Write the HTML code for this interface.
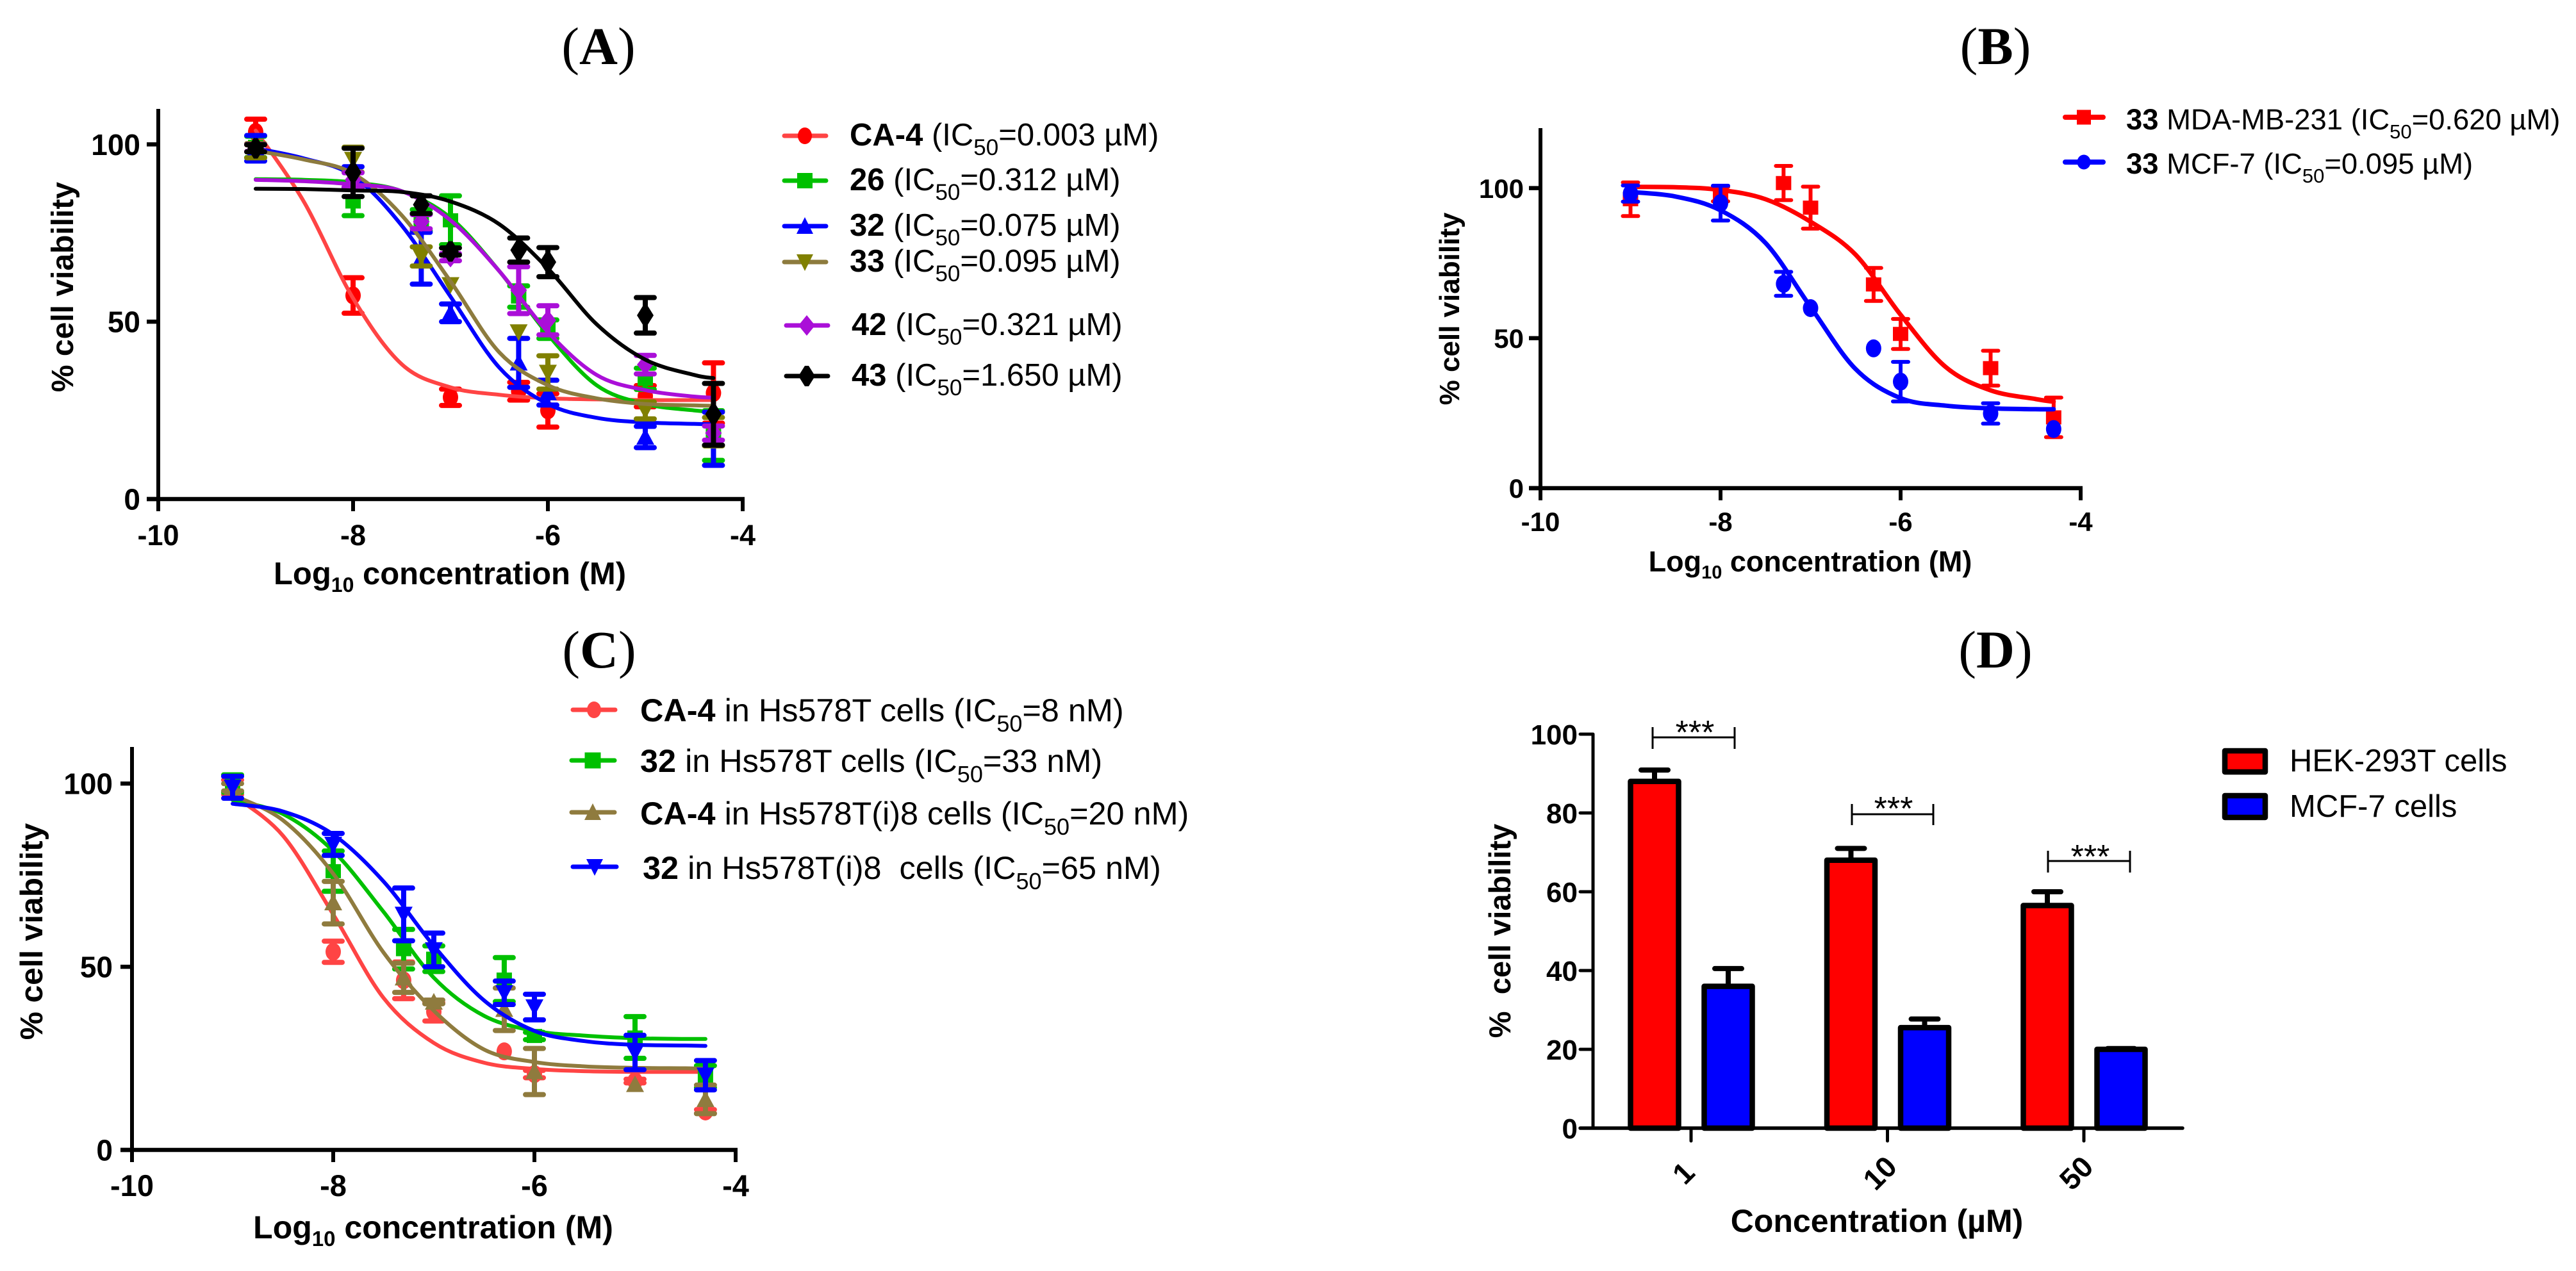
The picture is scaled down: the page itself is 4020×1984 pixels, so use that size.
<!DOCTYPE html>
<html lang="en">
<head>
<meta charset="utf-8">
<title>Cell viability dose-response charts</title>
<style>
html,body{margin:0;padding:0;background:#fff;}
svg{display:block;}
text{font-family:"Liberation Sans",Arial,sans-serif;fill:#000;}
.panel-title{font-family:"Liberation Serif",serif;font-size:83px;text-anchor:middle;}
.panel-title .l{font-weight:bold;}
.axis-title{font-weight:bold;text-anchor:middle;}
</style>
</head>
<body>
<svg id="figure" xmlns="http://www.w3.org/2000/svg" width="4020" height="1984" viewBox="0 0 4020 1984">
<rect width="4020" height="1984" fill="#fff"/>

<text class="panel-title" x="934" y="100">(<tspan class="l">A</tspan>)</text>
<text class="panel-title" x="3114" y="100">(<tspan class="l">B</tspan>)</text>
<text class="panel-title" x="935" y="1042">(<tspan class="l">C</tspan>)</text>
<text class="panel-title" x="3114" y="1042">(<tspan class="l">D</tspan>)</text>

<g id="chart-a"></g>
<g id="chart-b"></g>
<g id="chart-c"></g>
<g id="chart-d"></g>

<!-- Axis titles -->
<text class="axis-title" font-size="48" transform="translate(114,448) rotate(-90)">% cell viability</text>
<text class="axis-title" font-size="49" x="702" y="912">Log<tspan font-size="32" dy="12">10</tspan><tspan dy="-12"> concentration (M)</tspan></text>
<text class="axis-title" font-size="44" transform="translate(2277,482) rotate(-90)">% cell viability</text>
<text class="axis-title" font-size="45" x="2825" y="892">Log<tspan font-size="29" dy="11">10</tspan><tspan dy="-11"> concentration (M)</tspan></text>
<text class="axis-title" font-size="49.5" transform="translate(66,1454) rotate(-90)">% cell viability</text>
<text class="axis-title" font-size="50" x="676" y="1933">Log<tspan font-size="33" dy="12">10</tspan><tspan dy="-12"> concentration (M)</tspan></text>
<text class="axis-title" font-size="47" xml:space="preserve" transform="translate(2357,1453) rotate(-90)">%  cell viability</text>
<text class="axis-title" font-size="50" x="2929" y="1923">Concentration (µM)</text>

<!-- Legend A -->
<g font-size="49">
 <g>
  <line x1="1224" y1="212" x2="1289" y2="212" stroke="#ff4444" stroke-width="7" stroke-linecap="round"/>
  <path transform="translate(1256,212)" fill="#ff0000" d="M-11 0A11 13 0 1 1 11 0A11 13 0 1 1 -11 0Z"/>
  <text x="1326" y="227"><tspan font-weight="bold">CA-4</tspan> (IC<tspan font-size="35" dy="15">50</tspan><tspan dy="-15">=0.003 µM)</tspan></text>
 </g>
 <g>
  <line x1="1224" y1="282" x2="1289" y2="282" stroke="#00c000" stroke-width="7" stroke-linecap="round"/>
  <path transform="translate(1256,282)" fill="#00c000" d="M-12 -12H12V12H-12Z"/>
  <text x="1326" y="297"><tspan font-weight="bold">26</tspan> (IC<tspan font-size="35" dy="15">50</tspan><tspan dy="-15">=0.312 µM)</tspan></text>
 </g>
 <g>
  <line x1="1224" y1="353" x2="1289" y2="353" stroke="#0000ff" stroke-width="7" stroke-linecap="round"/>
  <path transform="translate(1256,353)" fill="#0000ff" d="M0 -14L13 12H-13Z"/>
  <text x="1326" y="368"><tspan font-weight="bold">32</tspan> (IC<tspan font-size="35" dy="15">50</tspan><tspan dy="-15">=0.075 µM)</tspan></text>
 </g>
 <g>
  <line x1="1224" y1="409" x2="1289" y2="409" stroke="#8d7b3e" stroke-width="7" stroke-linecap="round"/>
  <path transform="translate(1256,409)" fill="#808000" d="M0 14L13 -12H-13Z"/>
  <text x="1326" y="424"><tspan font-weight="bold">33</tspan> (IC<tspan font-size="35" dy="15">50</tspan><tspan dy="-15">=0.095 µM)</tspan></text>
 </g>
 <g>
  <line x1="1227" y1="508" x2="1292" y2="508" stroke="#aa0fd8" stroke-width="7" stroke-linecap="round"/>
  <path transform="translate(1259,508)" fill="#aa0fd8" d="M0 -16L13 0L0 16L-13 0Z"/>
  <text x="1329" y="523"><tspan font-weight="bold">42</tspan> (IC<tspan font-size="35" dy="15">50</tspan><tspan dy="-15">=0.321 µM)</tspan></text>
 </g>
 <g>
  <line x1="1227" y1="587" x2="1292" y2="587" stroke="#000" stroke-width="7" stroke-linecap="round"/>
  <path transform="translate(1259,587)" fill="#000" d="M-3 -16H3L13 0L3 16H-3L-13 0Z"/>
  <text x="1329" y="602"><tspan font-weight="bold">43</tspan> (IC<tspan font-size="35" dy="15">50</tspan><tspan dy="-15">=1.650 µM)</tspan></text>
 </g>
</g>

<!-- Legend B -->
<g font-size="45.4">
 <g>
  <line x1="3223" y1="183" x2="3282" y2="183" stroke="#ff0000" stroke-width="8" stroke-linecap="round"/>
  <path transform="translate(3252,183)" fill="#ff0000" d="M-11 -11.5H11V11.5H-11Z"/>
  <text x="3318" y="202"><tspan font-weight="bold">33</tspan> MDA-MB-231 (IC<tspan font-size="31" dy="14">50</tspan><tspan dy="-14">=0.620 µM)</tspan></text>
 </g>
 <g>
  <line x1="3223" y1="253" x2="3282" y2="253" stroke="#0000ff" stroke-width="8" stroke-linecap="round"/>
  <path transform="translate(3252,253)" fill="#0000ff" d="M-10.5 0A10.5 11.5 0 1 1 10.5 0A10.5 11.5 0 1 1 -10.5 0Z"/>
  <text x="3318" y="271"><tspan font-weight="bold">33</tspan> MCF-7 (IC<tspan font-size="31" dy="14">50</tspan><tspan dy="-14">=0.095 µM)</tspan></text>
 </g>
</g>

<!-- Legend C -->
<g font-size="50.4">
 <g>
  <line x1="894" y1="1108" x2="960" y2="1108" stroke="#ff4444" stroke-width="7" stroke-linecap="round"/>
  <path transform="translate(927,1108)" fill="#ff4444" d="M-11 0A11 13 0 1 1 11 0A11 13 0 1 1 -11 0Z"/>
  <text x="999" y="1126"><tspan font-weight="bold">CA-4</tspan> in Hs578T cells (IC<tspan font-size="36" dy="16">50</tspan><tspan dy="-16">=8 nM)</tspan></text>
 </g>
 <g>
  <line x1="892" y1="1187" x2="959" y2="1187" stroke="#00c000" stroke-width="7" stroke-linecap="round"/>
  <path transform="translate(925,1187)" fill="#00c000" d="M-12.5 -12.5H12.5V12.5H-12.5Z"/>
  <text x="999" y="1205"><tspan font-weight="bold">32</tspan> in Hs578T cells (IC<tspan font-size="36" dy="16">50</tspan><tspan dy="-16">=33 nM)</tspan></text>
 </g>
 <g>
  <line x1="892" y1="1268" x2="959" y2="1268" stroke="#8f7b3e" stroke-width="7" stroke-linecap="round"/>
  <path transform="translate(925,1268)" fill="#8f7b3e" d="M0 -14L13 12H-13Z"/>
  <text x="999" y="1287"><tspan font-weight="bold">CA-4</tspan> in Hs578T(i)8 cells (IC<tspan font-size="36" dy="16">50</tspan><tspan dy="-16">=20 nM)</tspan></text>
 </g>
 <g>
  <line x1="894" y1="1353" x2="962" y2="1353" stroke="#0000ff" stroke-width="7" stroke-linecap="round"/>
  <path transform="translate(928,1353)" fill="#0000ff" d="M0 14L13 -12H-13Z"/>
  <text x="1003" y="1372" xml:space="preserve"><tspan font-weight="bold">32</tspan> in Hs578T(i)8  cells (IC<tspan font-size="36" dy="16">50</tspan><tspan dy="-16">=65 nM)</tspan></text>
 </g>
</g>

<!-- Legend D -->
<g font-size="49">
 <g>
  <rect x="3472" y="1172" width="63" height="33" fill="#ff0000" stroke="#000" stroke-width="8.5" stroke-linejoin="round"/>
  <text x="3573" y="1204">HEK-293T cells</text>
 </g>
 <g>
  <rect x="3472" y="1242" width="63" height="34" fill="#0000ff" stroke="#000" stroke-width="8.5" stroke-linejoin="round"/>
  <text x="3573" y="1275">MCF-7 cells</text>
 </g>
</g>

<!-- Significance brackets -->
<g>
 <path d="M2579 1135V1169M2579 1151H2707M2707 1135V1169" fill="none" stroke="#000" stroke-width="3"/>
 <text x="2645" y="1161" font-size="52" text-anchor="middle">***</text>
</g>
<g>
 <path d="M2890 1255V1288M2890 1271H3017M3017 1255V1288" fill="none" stroke="#000" stroke-width="3"/>
 <text x="2955" y="1280" font-size="52" text-anchor="middle">***</text>
</g>
<g>
 <path d="M3196 1328V1362M3196 1344H3324M3324 1328V1362" fill="none" stroke="#000" stroke-width="3"/>
 <text x="3262" y="1355" font-size="52" text-anchor="middle">***</text>
</g>
</svg>

<script>
// Shared x positions (log10 M)
const doseLog = [-9, -8, -7.3, -7, -6.3, -6, -5, -4.3];
const curveLog = [-9, -8.5, -8, -7.5, -7, -6.5, -6, -5.5, -5, -4.5, -4.3];
const xTickValues = [-10, -8, -6, -4];
const xTickLabels = ['-10', '-8', '-6', '-4'];
const yTickValues = [0, 50, 100];
const yTickLabels = ['0', '50', '100'];

// Panel A values
const aCa4Mean = [103.5, 57.4, null, 28.7, 30.4, 25, 29, 29.9];
const aCa4Err = [3.6, 5, null, 2.3, 2.5, 4.7, 3, 8.5];
const aCa4Curve = [103.9, 83.6, 56.6, 38, 31.5, 29.4, 28.4, 28.1, 27.9, 27.9, 27.9];
const a26Mean = [99.3, 83.9, 78.6, 78.6, 57.1, 47.9, 33.9, 17.9];
const a26Err = [3, 4, 3, 6.9, 3, 2.6, 3, 7];
const a26Curve = [90.2, 90, 89.3, 86.8, 79.3, 64.3, 46.4, 32.1, 26.8, 25, 24.6];
const a32Mean = [98.9, 90.7, 67.9, 52.5, 38.4, 30, 17.5, 17];
const a32Err = [3.6, 3, 7.3, 2.5, 6.9, 3.5, 3, 7.5];
const a32Curve = [98.9, 96, 91.1, 77.1, 57.1, 37.1, 26.8, 22.9, 21.6, 21.2, 21.1];
const a33Mean = [98.2, 95.7, 68.4, 60.4, 47.1, 35.7, 25, 19];
const a33Err = [2, 3.5, 2.7, 0.3, 0.3, 4.7, 2.4, 4];
const a33Curve = [98.2, 95.7, 91.8, 80, 61.4, 41.4, 32.1, 28.4, 26.8, 26.4, 26.3];
const a42Mean = [99, 90, 78.2, 68.2, 58.9, 50.4, 37.9, 18.6];
const a42Err = [1, 2, 2, 1, 6.6, 4.1, 2.6, 2];
const a42Curve = [90, 89.6, 88.7, 86.8, 78.6, 64.3, 47.1, 35, 30.7, 28.9, 28.6];
const a43Mean = [98.9, 92.1, 83, 69.8, 70.2, 66.8, 51.8, 23.9];
const a43Err = [1, 6.8, 2.5, 1, 3.4, 4.1, 5, 8.7];
const a43Curve = [87.5, 87.4, 87, 86.6, 83.9, 77.5, 65, 49.3, 39.3, 35, 34.1];

// Panel B values
const bRedMean = [96.3, 98, 101.7, 93.5, 67.9, 51.4, 40, 23.6];
const bRedErr = [5.6, 2.4, 5.7, 7, 5.5, 5, 5.8, 6.6];
const bRedCurve = [100.4, 100.3, 99.4, 96.3, 88.8, 77.8, 57.8, 40.4, 32.6, 29.7, 28.8];
const bBlueMean = [98.2, 95, 68.1, 60, 46.6, 35.5, 24.9, 19.7];
const bBlueErr = [2.7, 5.8, 4, 0.3, 0, 6.6, 3.4, 0];
const bBlueCurve = [98.7, 97.2, 92.6, 81.7, 60.4, 39.7, 30, 27.5, 26.6, 26.3, 26.3];

// Panel C values
const cCa4Mean = [99, 54.1, 46.3, 37.7, 26.9, 20.7, 18.8, 10.5];
const cCa4Err = [2, 2.9, 5, 2.5, 0, 1, 0.5, 0.5];
const cCa4Curve = [96.9, 85.8, 64.3, 41.5, 29.2, 23.8, 22.1, 21.5, 21.3, 21.3, 21.3];
const c32Mean = [100, 76.1, 54.8, 52.2, 46.5, 31.1, 30.7, 20];
const c32Err = [2.4, 5.5, 5.4, 3.5, 6, 1, 5.7, 3];
const c32Curve = [95.5, 91.7, 81.6, 65, 47, 36.6, 32.5, 31.2, 30.5, 30.3, 30.3];
const cCa4iMean = [99, 67.5, 47, 40.4, 38.4, 21.4, 17.9, 13.8];
const cCa4iErr = [1, 5.8, 4, 0.5, 5.8, 6.3, 0, 3.9];
const cCa4iCurve = [96.9, 90, 75.4, 53.9, 38, 27.4, 24, 22.8, 22.4, 22.3, 22.2];
const c32iMean = [99, 83.4, 64.3, 54.6, 42.9, 39, 26.6, 20.4];
const c32iErr = [3, 3, 7.2, 4.6, 3.2, 3.5, 4.7, 4];
const c32iCurve = [94.5, 92.4, 86.1, 73.3, 55.7, 40.8, 32.5, 29.7, 28.7, 28.5, 28.4];

// Panel D values
const dCategories = ['1', '10', '50'];
const dHekMean = [88, 68, 56.5];
const dHekErr = [2.9, 3, 3.5];
const dMcfMean = [36, 25.5, 20];
const dMcfErr = [4.5, 2.2, 0.2];
const dTickValues = [0, 20, 40, 60, 80, 100];
const dTickLabels = ['0', '20', '40', '60', '80', '100'];

const NS = 'http://www.w3.org/2000/svg';
const SHAPES = {
  circle: 'M-12 0A12 14 0 1 1 12 0A12 14 0 1 1 -12 0Z',
  square: 'M-12 -11H12V11H-12Z',
  up: 'M0 -14L14 12H-14Z',
  down: 'M0 14L14 -12H-14Z',
  diamond: 'M0 -16L13 0L0 16L-13 0Z',
  hex: 'M-3 -16H3L13 0L3 16H-3L-13 0Z'
};

function mk(tag, parent, attrs) {
  const n = document.createElementNS(NS, tag);
  for (const k in attrs) n.setAttribute(k, attrs[k]);
  parent.appendChild(n);
  return n;
}

function makeScale(d0, d1, r0, r1) {
  return function (v) { return r0 + (v - d0) * (r1 - r0) / (d1 - d0); };
}

function smoothPath(xs, ys) {
  let d = 'M' + xs[0].toFixed(1) + ' ' + ys[0].toFixed(1);
  for (let i = 0; i < xs.length - 1; i++) {
    const p = i > 0 ? i - 1 : i;
    const n = i + 2 < xs.length ? i + 2 : i + 1;
    const c1x = xs[i] + (xs[i + 1] - xs[p]) / 6;
    const c1y = ys[i] + (ys[i + 1] - ys[p]) / 6;
    const c2x = xs[i + 1] - (xs[n] - xs[i]) / 6;
    const c2y = ys[i + 1] - (ys[n] - ys[i]) / 6;
    d += 'C' + c1x.toFixed(1) + ' ' + c1y.toFixed(1) + ' ' + c2x.toFixed(1) + ' ' + c2y.toFixed(1) + ' ' + xs[i + 1].toFixed(1) + ' ' + ys[i + 1].toFixed(1);
  }
  return d;
}

function drawAxes(g, f, sx, sy) {
  const yAxis = mk('line', g, { x1: f.x0, y1: f.yTop, x2: f.x0, y2: f.y0, stroke: '#000', 'stroke-width': 6 });
  
  
  const xAxis = mk('line', g, { x1: f.x0 - f.tickY, y1: f.y0, x2: f.x1 + 3, y2: f.y0, stroke: '#000', 'stroke-width': 6.5 });
  
  
  yTickValues.forEach(function (v, i) {
    const t = mk('line', g, { x1: f.x0 - f.tickY, y1: sy(v), x2: f.x0, y2: sy(v), stroke: '#000', 'stroke-width': 6.5 });
    
    
    const l = mk('text', g, { x: f.yLabelX, y: sy(v) + f.fontY * 0.36, 'font-size': f.fontY, 'font-weight': 'bold', 'text-anchor': 'end' });
    
    
    l.textContent = yTickLabels[i];
  });
  xTickValues.forEach(function (v, i) {
    const t = mk('line', g, { x1: sx(v), y1: f.y0, x2: sx(v), y2: f.y0 + 19, stroke: '#000', 'stroke-width': 6 });
    
    
    const l = mk('text', g, { x: sx(v), y: f.y0 + f.xLabelDy, 'font-size': f.fontX, 'font-weight': 'bold', 'text-anchor': 'middle' });
    
    
    l.textContent = xTickLabels[i];
  });
}

function drawSeries(g, s, f, sx, sy) {
  const group = mk('g', g, {});
  
  
  doseLog.forEach(function (x, i) {
    const m = s.mean[i];
    if (m === null) return;
    const e = s.err[i];
    const px = sx(x);
    if (e > 0.4) {
      const bar = mk('path', group, {
        d: 'M' + px + ' ' + sy(m + e) + 'V' + sy(m - e) +
           'M' + (px - f.cap) + ' ' + sy(m + e) + 'H' + (px + f.cap) +
           'M' + (px - f.cap) + ' ' + sy(m - e) + 'H' + (px + f.cap),
        fill: 'none', stroke: s.mark, 'stroke-width': f.errW, 'stroke-linecap': 'round'
      });
      
      
    }
    const pt = mk('path', group, { d: SHAPES[s.shape], fill: s.mark, transform: 'translate(' + px + ',' + sy(m) + ')' });
    
    
  });
  const curve = mk('path', group, {
    d: smoothPath(curveLog.map(sx), s.curve.map(sy)),
    fill: 'none', stroke: s.line, 'stroke-width': f.curveW, 'stroke-linecap': 'round'
  });
  
  
}

function drawDose(id, f, series) {
  const g = document.getElementById(id);
  const sx = makeScale(-10, -4, f.x0, f.x1);
  const sy = makeScale(0, f.yMax, f.y0, f.yTop);
  series.forEach(function (s) { drawSeries(g, s, f, sx, sy); });
  drawAxes(g, f, sx, sy);
}

drawDose('chart-a',
  { x0: 247, x1: 1159, y0: 779, yTop: 170, yMax: 110, tickY: 18, yLabelX: 219, fontY: 46, fontX: 45, xLabelDy: 72, cap: 14, errW: 8, curveW: 6 },
  [
    { name: 'ca-4', shape: 'circle', mark: '#ff0000', line: '#ff4444', mean: aCa4Mean, err: aCa4Err, curve: aCa4Curve },
    { name: '26', shape: 'square', mark: '#00c000', line: '#00c000', mean: a26Mean, err: a26Err, curve: a26Curve },
    { name: '32', shape: 'up', mark: '#0000ff', line: '#0000ff', mean: a32Mean, err: a32Err, curve: a32Curve },
    { name: '33', shape: 'down', mark: '#808000', line: '#8d7b3e', mean: a33Mean, err: a33Err, curve: a33Curve },
    { name: '42', shape: 'diamond', mark: '#aa0fd8', line: '#aa0fd8', mean: a42Mean, err: a42Err, curve: a42Curve },
    { name: '43', shape: 'hex', mark: '#000000', line: '#000000', mean: a43Mean, err: a43Err, curve: a43Curve }
  ]);

drawDose('chart-b',
  { x0: 2404, x1: 3247, y0: 762, yTop: 200, yMax: 120, tickY: 18, yLabelX: 2378, fontY: 42, fontX: 42, xLabelDy: 67, cap: 12, errW: 6, curveW: 7 },
  [
    { name: 'mda-mb-231', shape: 'square', mark: '#ff0000', line: '#ff0000', mean: bRedMean, err: bRedErr, curve: bRedCurve },
    { name: 'mcf-7', shape: 'circle', mark: '#0000ff', line: '#0000ff', mean: bBlueMean, err: bBlueErr, curve: bBlueCurve }
  ]);

drawDose('chart-c',
  { x0: 206, x1: 1148, y0: 1795, yTop: 1166, yMax: 110, tickY: 18, yLabelX: 176, fontY: 46, fontX: 47, xLabelDy: 72, cap: 14, errW: 8, curveW: 6 },
  [
    { name: 'ca-4-hs578t', shape: 'circle', mark: '#ff4444', line: '#ff4444', mean: cCa4Mean, err: cCa4Err, curve: cCa4Curve },
    { name: '32-hs578t', shape: 'square', mark: '#00c000', line: '#00c000', mean: c32Mean, err: c32Err, curve: c32Curve },
    { name: 'ca-4-hs578ti8', shape: 'up', mark: '#8f7b3e', line: '#8f7b3e', mean: cCa4iMean, err: cCa4iErr, curve: cCa4iCurve },
    { name: '32-hs578ti8', shape: 'down', mark: '#0000ff', line: '#0000ff', mean: c32iMean, err: c32iErr, curve: c32iCurve }
  ]);

// Panel D bars
(function () {
  const g = document.getElementById('chart-d');
  const y0 = 1761;
  const sy = makeScale(0, 100, y0, 1146);
  const sc = makeScale(0, 2, 2639, 3252);
  function bar(cx, mean, err, color, name) {
    const stem = mk('path', g, {
      d: 'M' + cx + ' ' + sy(mean) + 'V' + sy(mean + err) + 'M' + (cx - 21) + ' ' + sy(mean + err) + 'H' + (cx + 21),
      fill: 'none', stroke: '#000', 'stroke-width': 8, 'stroke-linecap': 'round'
    });
    
    
    const r = mk('rect', g, {
      x: cx - 37.5, y: sy(mean), width: 75, height: y0 - sy(mean),
      fill: color, stroke: '#000', 'stroke-width': 8.5, 'stroke-linejoin': 'round'
    });
    
    
  }
  dCategories.forEach(function (c, i) {
    const t = sc(i);
    bar(t - 57, dHekMean[i], dHekErr[i], '#ff0000', 'hek-293t-' + c);
    bar(t + 58, dMcfMean[i], dMcfErr[i], '#0000ff', 'mcf-7-' + c);
  });
  const yAxis = mk('line', g, { x1: 2486, y1: 1146, x2: 2486, y2: y0, stroke: '#000', 'stroke-width': 5 });
  
  
  const xAxis = mk('line', g, { x1: 2466, y1: y0, x2: 3406, y2: y0, stroke: '#000', 'stroke-width': 5.5, 'stroke-linecap': 'round' });
  
  
  dTickValues.forEach(function (v, i) {
    const t = mk('line', g, { x1: 2466, y1: sy(v), x2: 2486, y2: sy(v), stroke: '#000', 'stroke-width': 5, 'stroke-linecap': 'round' });
    
    
    const l = mk('text', g, { x: 2462, y: sy(v) + 16, 'font-size': 44, 'font-weight': 'bold', 'text-anchor': 'end' });
    
    
    l.textContent = dTickLabels[i];
  });
  dCategories.forEach(function (c, i) {
    const px = sc(i);
    const t = mk('line', g, { x1: px, y1: y0, x2: px, y2: y0 + 20, stroke: '#000', 'stroke-width': 5, 'stroke-linecap': 'round' });
    
    
    const cy = y0 + 70;
    const cx = px - 12;
    const l = mk('text', g, { 'font-size': 46, 'font-weight': 'bold', 'text-anchor': 'middle', transform: 'translate(' + cx + ',' + cy + ') rotate(-45) translate(0,16)' });
    
    
    l.textContent = c;
  });
})();
</script>
</body>
</html>
